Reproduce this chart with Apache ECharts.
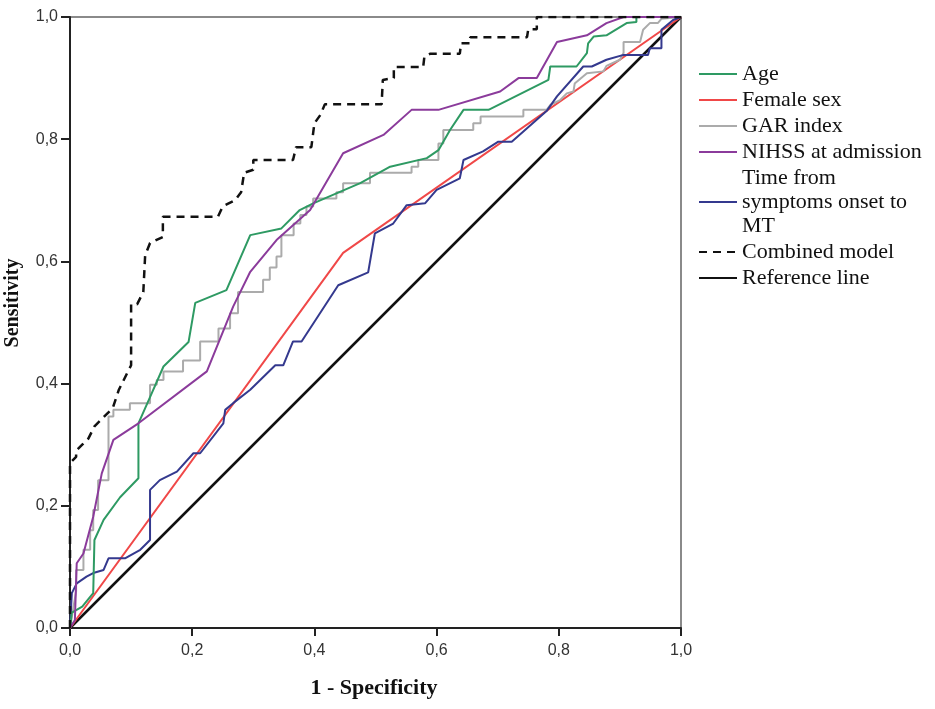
<!DOCTYPE html>
<html>
<head>
<meta charset="utf-8">
<script src="https://cdn.jsdelivr.net/npm/echarts@6/dist/echarts.min.js"></script>
<style>
  html, body { margin: 0; padding: 0; background: #fff; }
  #main { width: 935px; height: 709px; }
</style>
</head>
<body>
<div id="main"></div>
<script>
var seriesNames = ['Age', 'Female sex', 'GAR index', 'NIHSS at admission',
  'Time from\nsymptoms onset to\nMT', 'Combined model', 'Reference line'];

var axisTicks = [0, 0.2, 0.4, 0.6, 0.8, 1.0];

// [1 - specificity, sensitivity]
var ageRoc = [[0,0],[0.003,0.025],[0.02,0.035],[0.038,0.057],[0.04,0.057],[0.04,0.144],[0.055,0.177],
  [0.082,0.214],[0.112,0.245],[0.112,0.335],[0.131,0.378],[0.153,0.428],[0.194,0.468],[0.205,0.532],
  [0.256,0.553],[0.295,0.643],[0.346,0.654],[0.376,0.684],[0.398,0.695],[0.475,0.728],[0.524,0.755],
  [0.584,0.769],[0.603,0.782],[0.622,0.815],[0.644,0.848],[0.685,0.848],[0.783,0.897],[0.786,0.919],
  [0.829,0.919],[0.846,0.941],[0.848,0.957],[0.857,0.968],[0.878,0.97],[0.911,0.99],[0.927,0.992],
  [0.927,1],[1,1]];

var femaleRoc = [[0,0],[0.447,0.614],[1,1]];

var garRoc = [[0,0],[0.005,0.03],[0.01,0.06],[0.01,0.095],[0.022,0.095],[0.022,0.128],[0.033,0.128],
  [0.033,0.16],[0.038,0.16],[0.038,0.193],[0.046,0.193],[0.046,0.242],[0.063,0.242],[0.063,0.346],
  [0.071,0.346],[0.071,0.357],[0.098,0.357],[0.098,0.368],[0.131,0.368],[0.131,0.398],[0.142,0.398],
  [0.142,0.406],[0.153,0.406],[0.153,0.42],[0.185,0.42],[0.185,0.438],[0.213,0.438],[0.213,0.469],
  [0.243,0.469],[0.243,0.49],[0.262,0.49],[0.262,0.515],[0.275,0.515],[0.275,0.55],[0.316,0.55],
  [0.316,0.57],[0.327,0.57],[0.327,0.59],[0.338,0.59],[0.338,0.608],[0.346,0.608],[0.346,0.643],
  [0.366,0.643],[0.366,0.662],[0.377,0.662],[0.377,0.676],[0.387,0.676],[0.387,0.69],[0.398,0.69],
  [0.398,0.703],[0.436,0.703],[0.436,0.713],[0.447,0.713],[0.447,0.728],[0.491,0.728],[0.491,0.745],
  [0.559,0.745],[0.559,0.755],[0.57,0.755],[0.57,0.766],[0.603,0.766],[0.603,0.793],[0.611,0.793],
  [0.611,0.815],[0.66,0.815],[0.66,0.826],[0.672,0.826],[0.672,0.837],[0.742,0.837],[0.742,0.848],
  [0.78,0.848],[0.786,0.856],[0.802,0.864],[0.813,0.875],[0.824,0.878],[0.826,0.891],[0.846,0.908],
  [0.873,0.911],[0.878,0.92],[0.9,0.93],[0.906,0.941],[0.906,0.959],[0.933,0.959],[0.938,0.979],
  [0.949,0.99],[0.962,0.99],[0.968,0.997],[1,1]];

var nihssRoc = [[0,0],[0.008,0.013],[0.011,0.106],[0.022,0.122],[0.038,0.182],[0.052,0.253],[0.071,0.308],
  [0.112,0.335],[0.224,0.42],[0.267,0.526],[0.295,0.583],[0.338,0.635],[0.393,0.684],[0.447,0.777],
  [0.513,0.807],[0.559,0.848],[0.603,0.848],[0.704,0.878],[0.734,0.9],[0.764,0.9],[0.797,0.959],
  [0.846,0.97],[0.878,0.99],[0.906,1],[1,1]];

var timeRoc = [[0,0],[0.003,0.057],[0.011,0.073],[0.027,0.084],[0.038,0.09],[0.055,0.095],[0.063,0.114],
  [0.09,0.114],[0.115,0.128],[0.131,0.144],[0.131,0.226],[0.147,0.242],[0.175,0.256],[0.202,0.286],
  [0.213,0.286],[0.251,0.335],[0.254,0.357],[0.267,0.368],[0.295,0.39],[0.336,0.43],[0.349,0.43],
  [0.365,0.469],[0.379,0.469],[0.439,0.561],[0.488,0.582],[0.499,0.646],[0.529,0.662],[0.551,0.692],
  [0.581,0.695],[0.6,0.717],[0.638,0.736],[0.644,0.766],[0.676,0.78],[0.701,0.796],[0.723,0.796],
  [0.78,0.846],[0.797,0.87],[0.84,0.919],[0.854,0.919],[0.878,0.93],[0.906,0.938],[0.946,0.938],
  [0.949,0.949],[0.968,0.949],[0.968,0.979],[0.987,0.995],[1,1]];

var combinedRoc = [[0,0],[0,0.27],[0.01,0.28],[0.01,0.29],[0.02,0.30],[0.03,0.31],[0.04,0.33],[0.05,0.34],
  [0.06,0.35],[0.07,0.36],[0.08,0.39],[0.09,0.41],[0.10,0.43],[0.10,0.53],[0.11,0.53],[0.12,0.55],
  [0.123,0.61],[0.131,0.63],[0.152,0.64],[0.152,0.673],[0.242,0.673],[0.25,0.69],[0.27,0.70],
  [0.28,0.713],[0.285,0.745],[0.30,0.75],[0.30,0.766],[0.365,0.766],[0.37,0.787],[0.395,0.787],
  [0.40,0.826],[0.41,0.84],[0.417,0.857],[0.51,0.857],[0.512,0.897],[0.53,0.90],[0.53,0.918],
  [0.578,0.918],[0.58,0.935],[0.59,0.94],[0.638,0.94],[0.64,0.957],[0.655,0.957],[0.655,0.967],
  [0.748,0.967],[0.75,0.98],[0.764,0.98],[0.764,1],[1,1]];

var referenceLine = [[0,0],[1,1]];

var colors = ['#2e9a63', '#f04848', '#ababab', '#8b3b9b', '#34398e', '#111111', '#111111'];

var myChart = echarts.init(document.getElementById('main'));

function tickFmt(v) {
  return v.toFixed(1).replace('.', ',');
}

function rocLine(name, data, color, width, dash, z) {
  return {
    name: name,
    type: 'line',
    data: data,
    symbol: 'none',
    z: z,
    lineStyle: { color: color, width: width, type: dash || 'solid' },
    itemStyle: { color: color }
  };
}

option = {
  animation: false,
  backgroundColor: '#fff',
  grid: {
    left: 70, right: 254, top: 17, bottom: 81,
    show: true,
    borderColor: '#8a8a8a',
    borderWidth: 2
  },
  legend: {
    orient: 'vertical',
    left: 693,
    top: 57,
    itemWidth: 38,
    itemHeight: 12,
    itemGap: 2,
    data: seriesNames,
    // only the line in the key, no marker dot
    itemStyle: { opacity: 0 },
    textStyle: {
      fontFamily: 'Liberation Serif',
      fontSize: 22,
      lineHeight: 24,
      color: '#111'
    }
  },
  xAxis: {
    type: 'value',
    min: 0, max: 1, interval: 0.2,
    axisLine: { lineStyle: { color: '#222', width: 2 } },
    axisTick: { show: true, length: 8, lineStyle: { color: '#222', width: 2 } },
    axisLabel: {
      formatter: tickFmt, margin: 15,
      fontFamily: 'Liberation Sans', fontSize: 16, color: '#333'
    },
    splitLine: { show: false }
  },
  yAxis: {
    type: 'value',
    min: 0, max: 1, interval: 0.2,
    axisLine: { lineStyle: { color: '#222', width: 2 } },
    axisTick: { show: true, length: 9, lineStyle: { color: '#222', width: 2 } },
    axisLabel: {
      formatter: tickFmt, margin: 12,
      fontFamily: 'Liberation Sans', fontSize: 16, color: '#333'
    },
    splitLine: { show: false }
  },
  graphic: [{
    type: 'text',
    x: 13, y: 303,
    rotation: Math.PI / 2,
    style: {
      text: 'Sensitivity',
      font: 'bold 20px "Liberation Serif"',
      fill: '#111',
      align: 'center',
      verticalAlign: 'middle'
    }
  }, {
    type: 'text',
    x: 374, y: 688,
    style: {
      text: '1 - Specificity',
      font: 'bold 22px "Liberation Serif"',
      fill: '#111',
      align: 'center',
      verticalAlign: 'middle'
    }
  }],
  series: [
    rocLine(seriesNames[0], ageRoc, colors[0], 2, null, 5),
    rocLine(seriesNames[1], femaleRoc, colors[1], 2, null, 3),
    rocLine(seriesNames[2], garRoc, colors[2], 2, null, 4),
    rocLine(seriesNames[3], nihssRoc, colors[3], 2, null, 5),
    rocLine(seriesNames[4], timeRoc, colors[4], 2, null, 4),
    rocLine(seriesNames[5], combinedRoc, colors[5], 2.5, [8, 6], 6),
    rocLine(seriesNames[6], referenceLine, colors[6], 2.5, null, 2)
  ]
};

myChart.setOption(option);
</script>
</body>
</html>
